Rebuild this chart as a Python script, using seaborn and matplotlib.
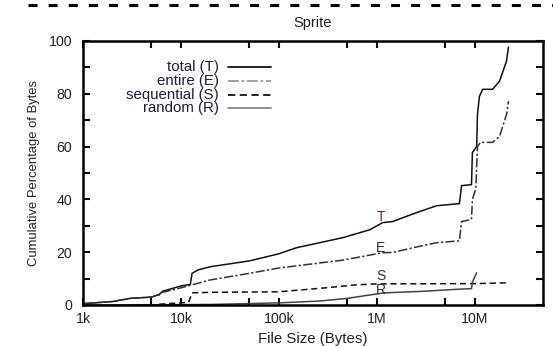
import matplotlib
matplotlib.use("Agg")
import matplotlib.pyplot as plt
import matplotlib.ticker as mticker
from matplotlib.lines import Line2D
import seaborn as sns
import pandas as pd

# ---- data ----
total_x = [1e3, 2e3, 3e3, 5e3, 6e3, 6.5e3, 1e4, 1.25e4, 1.3e4, 1.5e4, 2e4, 5e4, 7e4, 1e5,
           1.52e5, 4.5e5, 8.5e5, 1.15e6, 1.45e6, 2.56e6, 4.1e6, 7.0e6, 7.36e6, 9.3e6, 9.5e6,
           1.05e7, 1.07e7, 1.12e7, 1.21e7, 1.53e7, 1.8e7, 2.12e7, 2.22e7]
total_y = [0.5, 1.3, 2.5, 3.0, 4.0, 5.2, 7.2, 7.8, 12.0, 13.3, 14.5, 16.7, 18.0, 19.4,
           21.7, 25.5, 28.5, 31.2, 31.6, 35.0, 37.6, 38.4, 45.2, 45.6, 57.8,
           60.0, 72.0, 79.0, 81.7, 81.7, 84.8, 92.4, 97.7]

entire_x = [1e3, 2e3, 3e3, 5e3, 6e3, 6.5e3, 1e4, 2e4, 5e4, 1e5, 4.5e5, 1.15e6, 1.45e6,
            2.56e6, 4.1e6, 7.0e6, 7.36e6, 9.3e6, 9.5e6, 1.03e7, 1.07e7, 1.15e7, 1.53e7,
            1.8e7, 2.12e7, 2.22e7]
entire_y = [0.5, 1.3, 2.5, 3.0, 3.8, 4.8, 6.5, 9.5, 12.0, 14.0, 17.0, 19.8, 19.9,
            22.0, 23.6, 24.3, 31.6, 32.4, 40.0, 44.0, 60.0, 61.6, 61.6,
            63.9, 72.2, 77.2]

seq_x = [6e3, 1.2e4, 1.3e4, 2e4, 1e5, 3e5, 6e5, 1e6, 1e7, 2.22e7]
seq_y = [0.3, 1.0, 4.6, 4.8, 5.0, 6.5, 7.6, 8.0, 8.1, 8.4]

rand_x = [1e3, 2e4, 1e5, 2.6e5, 5e5, 8.5e5, 1.2e6, 3e6, 7e6, 9.3e6, 9.5e6, 1.05e7]
rand_y = [0.0, 0.2, 0.8, 1.5, 2.5, 3.8, 4.6, 5.2, 6.0, 6.2, 8.7, 12.2]

legend_labels = ["total (T)", "entire (E)", "sequential (S)", "random (R)"]
curve_tags = ["T", "E", "S", "R"]
tag_x = [1.1e6, 1.1e6, 1.1e6, 1.1e6]
tag_y = [33.5, 21.7, 11.0, 5.6]

x_ticks = [1e3, 1e4, 1e5, 1e6, 1e7]
x_ticklabels = ["1k", "10k", "100k", "1M", "10M"]
x_minor = [5e3, 5e4, 5e5, 5e6]
y_ticks = [0, 20, 40, 60, 80, 100]

# ---- style ----
sns.set_style("ticks")
plt.rcParams["font.family"] = ["Liberation Sans", "DejaVu Sans"]
plt.rcParams["font.size"] = 10.5

W, H = 553, 346
fig = plt.figure(figsize=(W / 100, H / 100), dpi=100)
ax = fig.add_axes([83 / W, 41 / H, 460 / W, 264 / H])

plot_colors = ["#111111", "#333333", "#111111", "#444444"]
legend_colors = ["#111111", "#999999", "#111111", "#888888"]
styles = ["solid", (0, (6, 1.5, 1.5, 1.5)), (0, (4, 2.5)), "solid"]
data = [(total_x, total_y), (entire_x, entire_y), (seq_x, seq_y), (rand_x, rand_y)]

for (xs, ys), col, ls in zip(data, plot_colors, styles):
    df = pd.DataFrame({"size": xs, "pct": ys})
    sns.lineplot(data=df, x="size", y="pct", ax=ax, color=col, linewidth=1.1,
                 linestyle=ls, estimator=None, sort=True)

ax.set_xscale("log")
ax.set_xlim(1e3, 5e7)
ax.set_ylim(0, 100)

ax.xaxis.set_major_locator(mticker.FixedLocator(x_ticks))
ax.xaxis.set_major_formatter(mticker.FixedFormatter(x_ticklabels))
ax.xaxis.set_minor_locator(mticker.FixedLocator(x_minor))
ax.xaxis.set_minor_formatter(mticker.NullFormatter())
ax.yaxis.set_major_locator(mticker.FixedLocator(y_ticks))
ax.yaxis.set_minor_locator(mticker.MultipleLocator(10))

ax.tick_params(which="both", direction="in", top=True, right=True, length=5,
               width=1.5, labelsize=10.2, colors="#000000", labelcolor="#222222")
ax.tick_params(axis="y", which="both", pad=8)
ax.tick_params(axis="x", which="both", pad=5)
for s in ax.spines.values():
    s.set_linewidth(1.8)
    s.set_color("#000000")

ax.set_xlabel("File Size (Bytes)", fontsize=10.8, color="#222222", labelpad=4)
ax.set_ylabel("Cumulative Percentage of Bytes", fontsize=9.4, color="#222222", labelpad=6)
ax.set_title("Sprite", fontsize=10.5, color="#222222", pad=10)

# legend (manual, text right-aligned, sample on the right)
leg_y = [67, 81, 95, 108]
for lab, py, col, ls in zip(legend_labels, leg_y, legend_colors, styles):
    fig.text(219 / W, 1 - py / H, lab, ha="right", va="center", color="#1c1c4a",
             fontsize=10.8)
    fig.add_artist(Line2D([228 / W, 271 / W], [1 - py / H, 1 - py / H], color=col,
                          linewidth=1.3, linestyle=ls, transform=fig.transFigure))

tag_colors = ["#7a2020", "#333333", "#333333", "#333333"]
for t, tx, ty, tc in zip(curve_tags, tag_x, tag_y, tag_colors):
    ax.text(tx, ty, t, ha="center", va="center", color=tc, fontsize=10)

# page separator dashed line
fig.add_artist(Line2D([28 / W, 1.0], [1 - 5 / H, 1 - 5 / H], color="black",
                      linewidth=2.2, linestyle=(0, (6.5 / 2.2, 8 / 2.2)),
                      transform=fig.transFigure))

fig.savefig("out.png", dpi=100)
